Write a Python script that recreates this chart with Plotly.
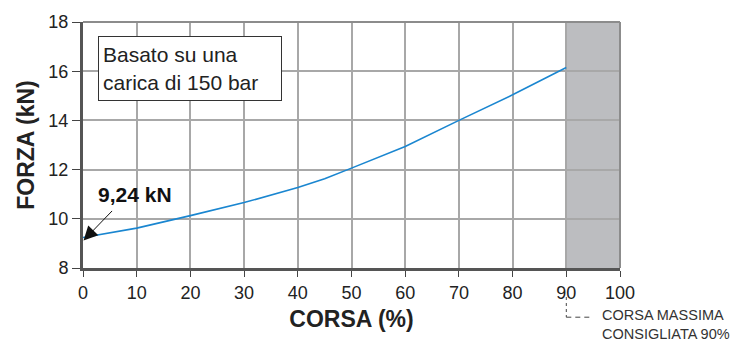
import plotly.graph_objects as go

# Stroke (%) vs force (kN) at 150 bar charge
corsa = [0, 10, 20, 30, 40, 45, 50, 60, 70, 80, 90]
forza = [9.24, 9.62, 10.13, 10.66, 11.27, 11.63, 12.06, 12.94, 14.0, 15.04, 16.15]
x_ticks = [0, 10, 20, 30, 40, 50, 60, 70, 80, 90, 100]
y_ticks = [8, 10, 12, 14, 16, 18]
corsa_max = 90

FONT = "Liberation Sans, Arial, sans-serif"

fig = go.Figure()
fig.add_trace(go.Scatter(
    x=corsa, y=forza, mode="lines",
    line=dict(color="#1a86d0", width=1.6),
    hoverinfo="skip", showlegend=False,
))

# Shaded area beyond the recommended maximum stroke
fig.add_shape(type="rect", xref="x", yref="y", x0=corsa_max, x1=100, y0=8, y1=18,
              fillcolor="#bcbdc0", line=dict(width=0), layer="below")

# Top and right frame lines
fig.add_shape(type="line", xref="paper", yref="paper", x0=0, x1=1, y0=1, y1=1,
              line=dict(color="#8c8c8c", width=2))
fig.add_shape(type="line", xref="paper", yref="paper", x0=1, x1=1, y0=0, y1=1,
              line=dict(color="#8c8c8c", width=2))

# Dashed leader to the note under the 90 tick
fig.add_shape(type="line", xref="paper", yref="paper", x0=0.9, x1=0.9, y0=-0.118, y1=-0.2,
              line=dict(color="#444", width=1, dash="3px,3px"))
fig.add_shape(type="line", xref="paper", yref="paper", x0=0.9, x1=0.948, y0=-0.2, y1=-0.2,
              line=dict(color="#444", width=1, dash="5px,4px"))

fig.add_annotation(
    xref="paper", yref="paper", x=0.965, y=-0.2, xanchor="left", yanchor="middle",
    text="CORSA MASSIMA<br>CONSIGLIATA 90%", showarrow=False, align="left",
    font=dict(family=FONT, size=14.5, color="#333"), yshift=-7, borderpad=0,
)

# Note box
fig.add_annotation(
    xref="x", yref="y", x=2.8, y=17.45, xanchor="left", yanchor="top",
    text="Basato su una<br>carica di 150 bar", showarrow=False, align="left",
    width=174, height=55, valign="middle",
    font=dict(family=FONT, size=21, color="#222"),
    bordercolor="#333", borderwidth=1, borderpad=4, bgcolor="white",
)

# Initial force callout: arrow and label
fig.add_annotation(
    xref="x", yref="y", x=0.1, y=9.12, ax=30, ay=-31,
    text="", showarrow=True, arrowhead=2, arrowsize=2.8,
    arrowwidth=1, arrowcolor="#111", standoff=0,
)
fig.add_annotation(
    xref="x", yref="y", x=9.7, y=10.97, showarrow=False,
    text="<b>9,24 kN</b>", font=dict(family=FONT, size=21, color="#111"),
)

fig.update_layout(
    width=752, height=343,
    margin=dict(l=83, r=132, t=19, b=75),
    paper_bgcolor="white", plot_bgcolor="white",
    font=dict(family=FONT, color="#222"),
    xaxis=dict(
        range=[0, 100], tickvals=x_ticks, ticks="outside", ticklen=6, tickcolor="#444",
        tickfont=dict(size=18, family=FONT, color="#222"),
        showgrid=True, gridcolor="#a8a8a8", gridwidth=1.5,
        showline=True, linecolor="#555", linewidth=3, zeroline=False,
        title=dict(text="<b>CORSA (%)</b>", font=dict(size=23, family=FONT, color="#222"), standoff=10),
    ),
    yaxis=dict(
        range=[8, 18], tickvals=y_ticks, ticks="outside", ticklen=8, tickcolor="#444",
        tickfont=dict(size=18, family=FONT, color="#222"),
        showgrid=True, gridcolor="#a8a8a8", gridwidth=1.5,
        showline=True, linecolor="#555", linewidth=3, zeroline=False,
        title=dict(text="<b>FORZA (kN)</b>", font=dict(size=23, family=FONT, color="#222"), standoff=8),
    ),
)

fig.write_html("out.html")
